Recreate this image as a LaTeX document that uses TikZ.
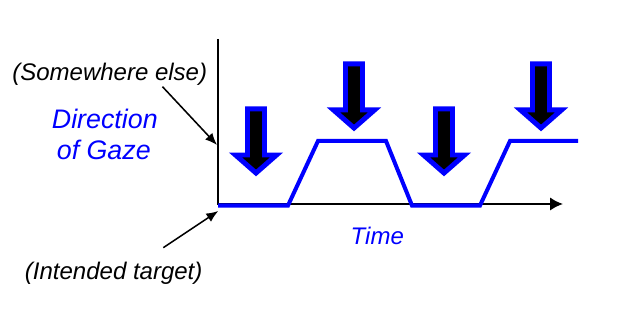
\documentclass[tikz,border=0pt]{standalone}
\usepackage{fontspec}
\setmainfont{Liberation Sans}
\usetikzlibrary{arrows.meta,calc}
\definecolor{gazeblue}{RGB}{0,0,255}
\tikzset{
  axisline/.style={
    draw=black,
    line width=1.45pt,
    -{Latex[length=9.2pt,width=9.5pt]}
  },
  gazetrace/.style={
    draw=gazeblue,
    line width=2.85pt
  },
  gazearrow/.style={
    draw=gazeblue,
    fill=black,
    line width=3.55pt
  },
  pointer/.style={
    draw=black,
    line width=1.1pt,
    -{Latex[length=8.5pt,width=7pt]}
  },
  notelabel/.style={
    font=\fontsize{17.07}{20}\selectfont\itshape,
    inner sep=0pt,
    anchor=base
  },
  gazelabel/.style={
    text=gazeblue,
    font=\fontsize{19.06}{22}\selectfont\itshape,
    inner sep=0pt,
    anchor=base
  }
}

\begin{document}
\begin{tikzpicture}[x=0.025cm,y=0.025cm]

  \useasboundingbox (0,0) rectangle (634,322);

  % Axes: gaze direction upwards, time to the right.
  \coordinate (origin) at (218,118);
  \coordinate (ytop) at (218,283);
  \coordinate (xend) at (563,118);
  \draw[axisline] (ytop) -- (origin) -- (xend);

  % Gaze trace switching between the two levels.
  \draw[gazetrace] (218,116.5) -- (288,116.5) -- (318,181) -- (386,181)
    -- (412,116.5) -- (480,116.5) -- (510,181) -- (578,181);

  % Block arrows over each plateau.
  \foreach \cx/\top in {256/213, 354/258, 444/213, 541/258}
    \draw[gazearrow,shift={(\cx,\top)}] (-8.5,0) -- (8.5,0) -- (8.5,-46)
      -- (20.5,-46) -- (0,-64) -- (-20.5,-46) -- (-8.5,-46) -- cycle;

  % Labels.
  \node[notelabel] (somewhere) at (109.7,241) {(Somewhere else)};
  \node[gazelabel] (direction) at (104.8,193.7) {Direction};
  \node[gazelabel] (ofgaze) at (103.8,162) {of Gaze};
  \node[gazelabel,font=\fontsize{17.07}{20}\selectfont\itshape]
    (timelabel) at (377.3,77.7) {Time};
  \node[notelabel] (intended) at (113.7,42.7) {(Intended target)};

  % Pointers from the notes to the two gaze levels on the axis.
  \coordinate (elsetail) at (162.5,235.3);
  \coordinate (elsemark) at (217,177);
  \coordinate (targettail) at (163.3,74.3);
  \coordinate (targetmark) at (218.3,111);
  \draw[pointer] (elsetail) -- (elsemark);
  \draw[pointer] (targettail) -- (targetmark);

\end{tikzpicture}
\end{document}
